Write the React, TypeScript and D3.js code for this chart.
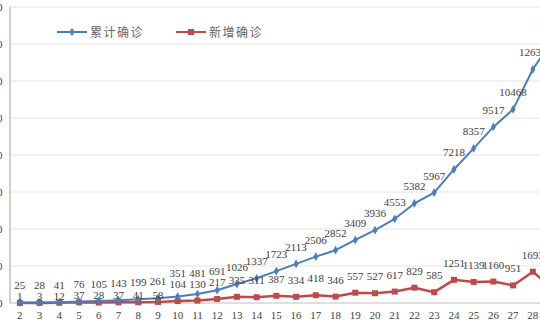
import { useEffect, useRef } from "react";
import * as d3 from "d3";

// day of month (x categories); the last one runs past the right edge
const days = [2, 3, 4, 5, 6, 7, 8, 9, 10, 11, 12, 13, 14, 15, 16, 17, 18, 19, 20, 21, 22, 23, 24, 25, 26, 27, 28, 29];
// 累计确诊
const cumulative = [25, 28, 41, 76, 105, 143, 199, 261, 351, 481, 691, 1026, 1337, 1723, 2113, 2506, 2852, 3409, 3936, 4553, 5382, 5967, 7218, 8357, 9517, 10468, 12632, 14200];
// 新增确诊
const newCases = [1, 3, 12, 37, 28, 37, 41, 58, 104, 130, 217, 335, 311, 387, 334, 418, 346, 557, 527, 617, 829, 585, 1251, 1139, 1160, 951, 1693, 760];
const yTicks = [0, 2000, 4000, 6000, 8000, 10000, 12000, 14000, 16000];

const W = 540;
const H = 320;
const BLUE = "#4a7ebb";
const RED = "#be4b48";

export default function App() {
  const ref = useRef<SVGSVGElement>(null);

  useEffect(() => {
    const svg = d3.select(ref.current);
    svg.selectAll("*").remove();

    const left = 10;
    const bandW = 19.73;
    const x = d3
      .scaleBand<number>()
      .domain(days)
      .range([left, left + bandW * days.length])
      .padding(0);
    const y = d3.scaleLinear().domain([0, 16000]).range([303, 7]);
    const cx = (d: number) => (x(d) as number) + x.bandwidth() / 2;

    // gridlines
    svg
      .append("g")
      .selectAll("line")
      .data(yTicks.slice(1))
      .join("line")
      .attr("x1", left)
      .attr("x2", W)
      .attr("y1", (d) => y(d))
      .attr("y2", (d) => y(d))
      .attr("stroke", "#e4e4e4")
      .attr("stroke-width", 1);

    // y tick labels (mostly cut off by the left edge)
    svg
      .append("g")
      .selectAll("text")
      .data(yTicks)
      .join("text")
      .attr("x", 2.5)
      .attr("y", (d) => y(d) + 4)
      .attr("text-anchor", "end")
      .attr("font-family", "'Liberation Serif', serif")
      .attr("font-size", 11)
      .attr("fill", "#404040")
      .text((d) => d);

    // axes lines
    svg.append("line").attr("x1", left).attr("x2", left).attr("y1", 7).attr("y2", 303)
      .attr("stroke", "#bfbfbf").attr("stroke-width", 1.5);
    svg.append("line").attr("x1", left).attr("x2", W).attr("y1", 303).attr("y2", 303)
      .attr("stroke", "#bfbfbf").attr("stroke-width", 1);

    // x tick labels
    svg
      .append("g")
      .selectAll("text")
      .data(days)
      .join("text")
      .attr("x", (d) => cx(d))
      .attr("y", 319)
      .attr("text-anchor", "middle")
      .attr("font-family", "'Liberation Serif', serif")
      .attr("font-size", 11)
      .attr("fill", "#404040")
      .text((d) => d);

    const line = d3
      .line<number>()
      .x((_, i) => cx(days[i]))
      .y((d) => y(d));

    // 新增确诊 series
    svg.append("path").datum(newCases).attr("d", line).attr("fill", "none")
      .attr("stroke", RED).attr("stroke-width", 2.5).attr("stroke-linejoin", "round");
    svg.append("g").selectAll("rect").data(newCases).join("rect")
      .attr("x", (_, i) => cx(days[i]) - 3)
      .attr("y", (d) => y(d) - 3)
      .attr("width", 6)
      .attr("height", 6)
      .attr("fill", RED);

    // 累计确诊 series
    svg.append("path").datum(cumulative).attr("d", line).attr("fill", "none")
      .attr("stroke", BLUE).attr("stroke-width", 2).attr("stroke-linejoin", "round");
    svg.append("g").selectAll("path.mk").data(cumulative).join("path")
      .attr("class", "mk")
      .attr("d", d3.symbol(d3.symbolDiamond, 22)())
      .attr("transform", (d, i) => `translate(${cx(days[i])},${y(d)})`)
      .attr("fill", BLUE);

    // data labels: red first, then push blue up if they would collide
    const lab = svg.append("g")
      .attr("font-family", "'Liberation Serif', serif")
      .attr("font-size", 11)
      .attr("fill", "#404040")
      .attr("text-anchor", "middle");
    newCases.forEach((v, i) => {
      const gap = y(v) - y(cumulative[i]);
      const off = gap < 4 ? 3 : 13;
      const ry = y(v) - off;
      lab.append("text").attr("x", cx(days[i])).attr("y", ry).text(v);
      const by = Math.min(y(cumulative[i]) - 13, ry - 11);
      lab.append("text").attr("x", cx(days[i])).attr("y", by).text(cumulative[i]);
    });

    // legend
    const leg = svg.append("g");
    const items = [
      { name: "累计确诊", color: BLUE, x: 57, diamond: true },
      { name: "新增确诊", color: RED, x: 176, diamond: false },
    ];
    items.forEach((it) => {
      leg.append("line").attr("x1", it.x).attr("x2", it.x + 30).attr("y1", 32).attr("y2", 32)
        .attr("stroke", it.color).attr("stroke-width", 2);
      if (it.diamond) {
        leg.append("path").attr("d", d3.symbol(d3.symbolDiamond, 22)())
          .attr("transform", `translate(${it.x + 15},32)`).attr("fill", it.color);
      } else {
        leg.append("rect").attr("x", it.x + 12).attr("y", 29).attr("width", 6).attr("height", 6)
          .attr("fill", it.color);
      }
      leg.append("text").attr("x", it.x + 33).attr("y", 36.5)
        .attr("font-family", "'Noto Sans CJK SC', sans-serif")
        .attr("font-size", 12)
        .attr("letter-spacing", 1.5)
        .attr("fill", "#666666")
        .text(it.name);
    });
  }, []);

  return (
    <svg
      ref={ref}
      width={W}
      height={H}
      style={{ position: "fixed", left: 0, top: 0, background: "#fff", display: "block" }}
    />
  );
}
